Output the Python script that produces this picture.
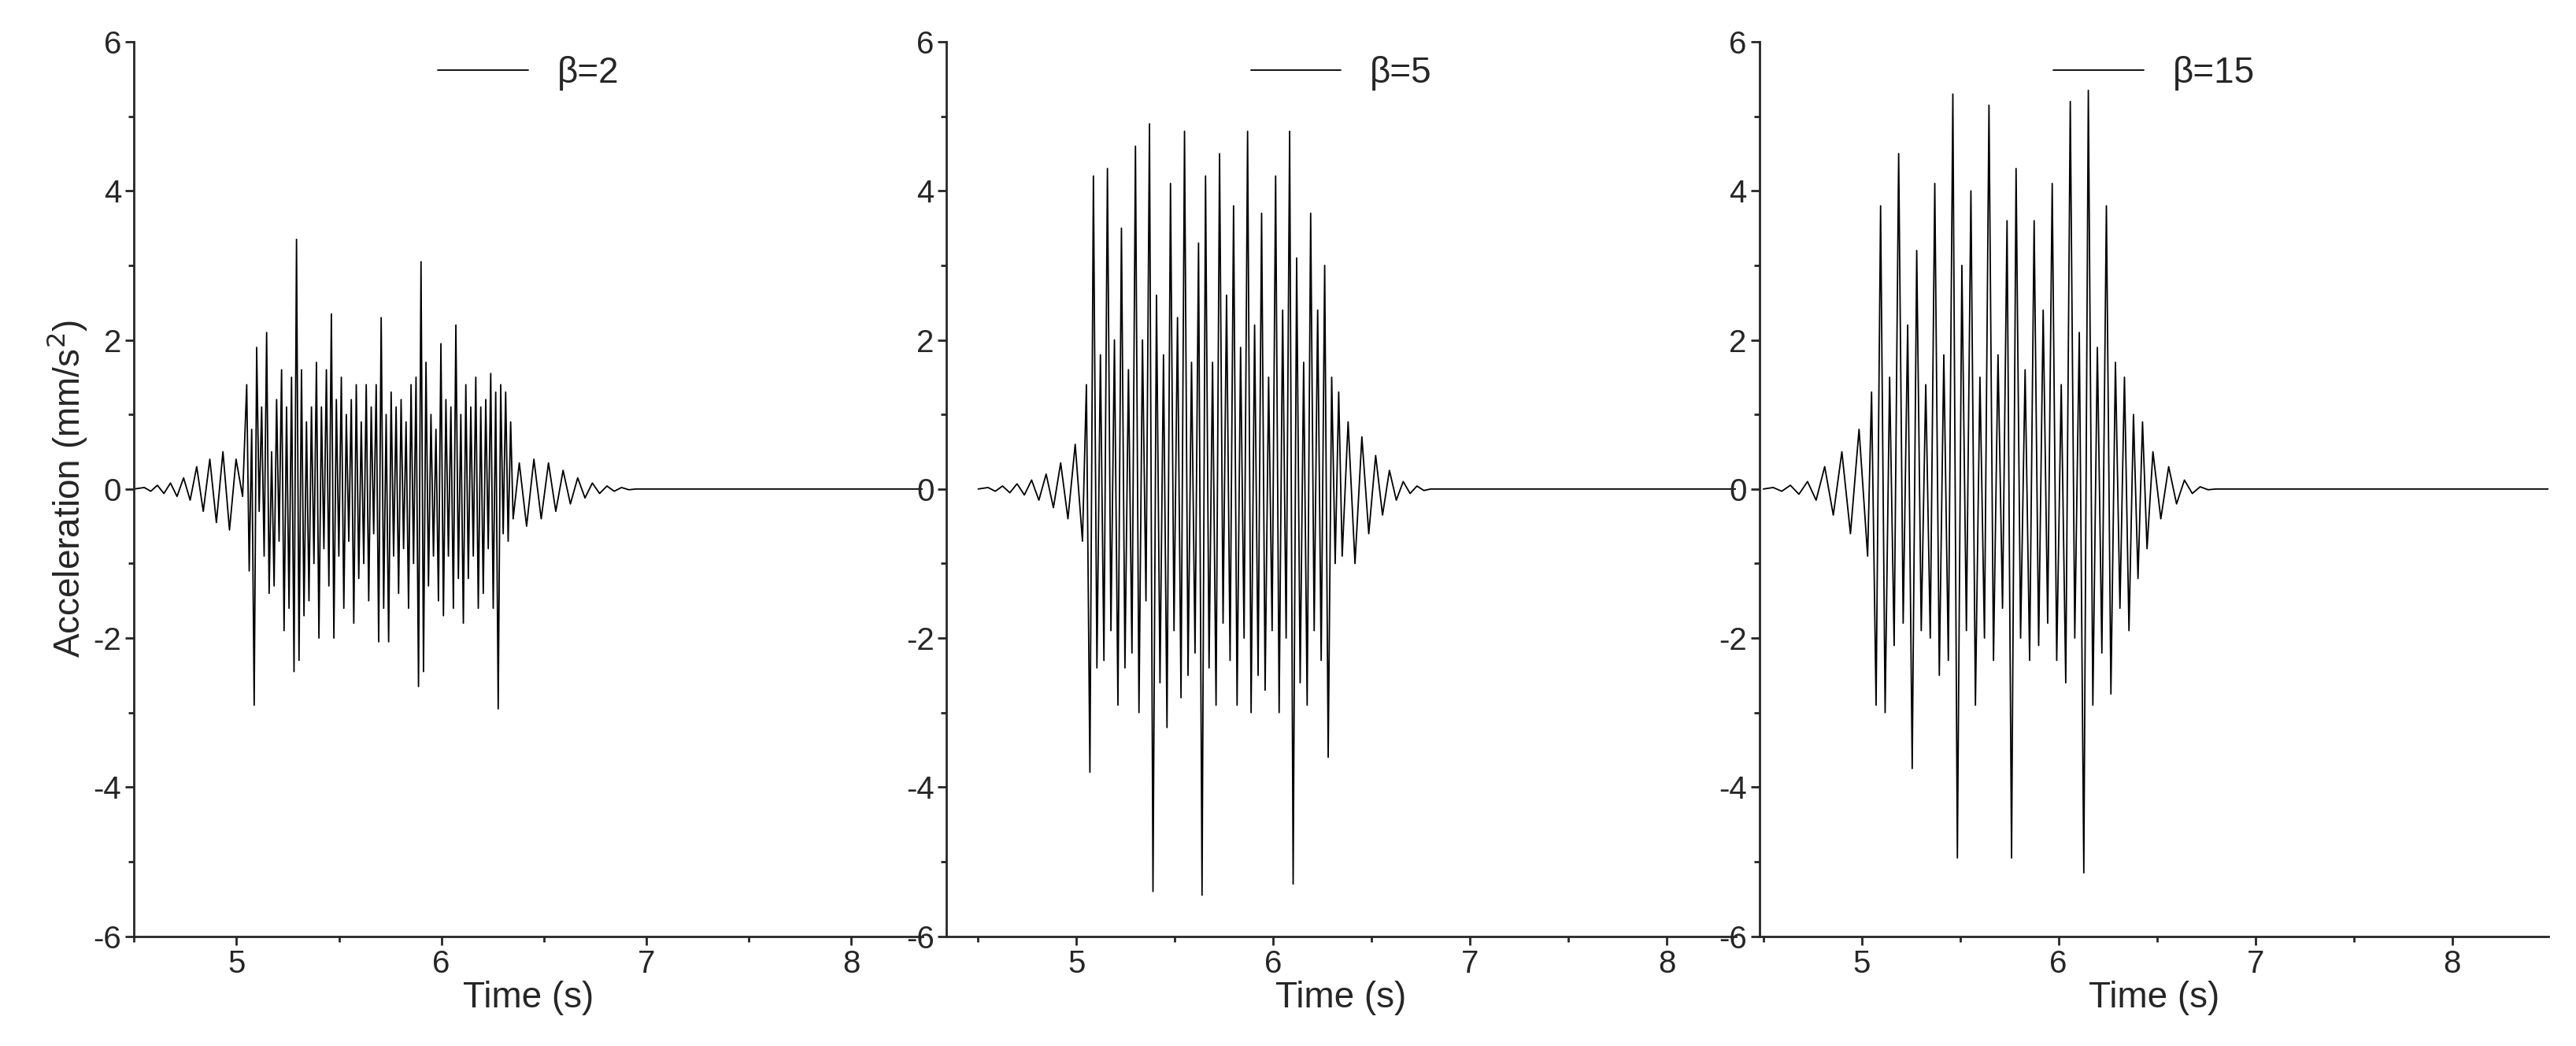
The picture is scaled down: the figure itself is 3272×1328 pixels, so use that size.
import numpy as np, pandas as pd, matplotlib
matplotlib.use("Agg")
import matplotlib.pyplot as plt, seaborn as sns
from matplotlib.ticker import MultipleLocator

sns.set_style("ticks")
plt.rcParams['font.family'] = ['Liberation Sans', 'DejaVu Sans']
plt.rcParams['axes.unicode_minus'] = False

labels = ["β=2", "β=5", "β=15"]
xlims = [(4.5, 8.35), (4.34, 8.35), (4.48, 8.49)]
pre1 = [0.02,-0.03,0.05,-0.06,0.08,-0.1,0.15,-0.15,0.3,-0.3,0.4,-0.45,0.5,-0.55,0.4,-0.1]
burst1 = [1.4,-1.1,0.8,-2.9,1.9,-0.3,1.1,-0.9,2.1,-1.4,0.5,-1.3,1.2,-0.7,1.6,-1.9,1.1,-1.6,1.5,-2.45,3.35,-2.3,1.6,-1.7,0.9,-1.5,1.1,-1.0,1.7,-2.0,1.1,-0.8,1.6,-1.3,2.35,-2.0,1.2,-0.9,1.5,-1.6,1.0,-0.7,1.2,-1.8,1.4,-1.2,0.9,-1.0,1.4,-1.5,1.1,-0.6,1.4,-2.05,2.3,-1.6,1.0,-2.05,1.3,-0.9,1.1,-1.4,1.2,-0.8,0.9,-1.6,1.4,-1.0,1.5,-2.65,3.05,-2.45,1.7,-1.3,1.0,-0.9,0.8,-1.5,1.95,-1.7,1.2,-0.9,1.1,-1.6,2.2,-1.2,1.0,-1.8,1.4,-1.2,1.1,-0.9,1.5,-1.6,1.1,-1.4,1.2,-0.8,1.55,-1.6,1.3,-2.95,1.4,-0.6,1.3,-0.7,0.9,-0.4]
post1 = [0.35,-0.5,0.4,-0.4,0.35,-0.3,0.25,-0.2,0.15,-0.12,0.08,-0.06,0.04,-0.03,0.02,-0.01,0.0]
pre2 = [0.02,-0.03,0.04,-0.05,0.07,-0.08,0.12,-0.15,0.2,-0.25,0.35,-0.4,0.6,-0.7]
burst2 = [1.4,-3.8,4.2,-2.4,1.8,-2.3,4.3,-1.9,2.0,-2.9,3.5,-2.4,1.6,-2.2,4.6,-3.0,2.0,-1.5,4.9,-5.4,2.6,-2.6,1.8,-3.2,4.1,-1.9,2.3,-2.8,4.8,-2.5,1.7,-2.2,3.3,-5.45,4.2,-2.4,1.7,-2.9,4.5,-1.8,2.6,-2.3,3.8,-2.9,1.9,-2.0,4.8,-3.0,2.2,-2.5,3.7,-2.7,1.5,-1.9,4.2,-3.0,2.4,-2.0,4.8,-5.3,3.1,-2.6,1.7,-2.9,3.7,-1.9,2.4,-2.3,3.0,-3.6,1.5,-1.0,1.3,-0.9]
post2 = [0.9,-1.0,0.7,-0.6,0.45,-0.35,0.25,-0.15,0.1,-0.06,0.04,-0.02,0.0]
pre3 = [0.02,-0.03,0.05,-0.07,0.1,-0.15,0.3,-0.35,0.5,-0.6,0.8,-0.9]
burst3 = [1.3,-2.9,3.8,-3.0,1.5,-2.1,4.5,-1.8,2.2,-3.75,3.2,-1.9,1.4,-2.0,4.1,-2.5,1.8,-2.3,5.3,-4.95,3.0,-1.9,4.0,-2.9,1.5,-2.0,5.15,-2.3,1.8,-1.6,3.6,-4.95,4.3,-2.0,1.6,-2.3,3.6,-2.1,2.4,-1.8,4.1,-2.3,1.4,-2.6,5.2,-2.0,2.1,-5.15,5.35,-2.9,1.9,-2.2,3.8,-2.75,1.7,-1.6,1.5,-1.9,1.0,-1.2,0.9,-0.8]
post3 = [0.5,-0.4,0.3,-0.2,0.12,-0.06,0.03,-0.01,0.0]
segments = [
    [(4.55, 5.03, pre1), (5.05, 6.35, burst1), (6.38, 6.95, post1)],
    [(4.55, 5.03, pre2), (5.05, 6.35, burst2), (6.38, 6.8, post2)],
    [(4.55, 5.03, pre3), (5.05, 6.45, burst3), (6.48, 6.8, post3)],
]

def build(segs, xmax):
    t, v = [4.5], [0.0]
    for s, e, vals in segs:
        t += list(np.linspace(s, e, len(vals))); v += vals
    t.append(xmax); v.append(0.0)
    return pd.DataFrame({"t": t, "a": v})

fig, axes = plt.subplots(1, 3, figsize=(32.73, 13.28), dpi=100)
fig.subplots_adjust(left=0.052, right=0.989, bottom=0.105, top=0.96, wspace=0.03)
for i, ax in enumerate(axes):
    df = build(segments[i], xlims[i][1])
    sns.lineplot(data=df, x="t", y="a", ax=ax, color="black", lw=1.3,
                 sort=False, estimator=None, label=labels[i])
    ax.set_xlim(*xlims[i]); ax.set_ylim(-6, 6)
    ax.set_xticks([5, 6, 7, 8]); ax.set_yticks([-6, -4, -2, 0, 2, 4, 6])
    ax.xaxis.set_minor_locator(MultipleLocator(0.5))
    ax.yaxis.set_minor_locator(MultipleLocator(1))
    ax.tick_params(which="major", length=8, width=2, labelsize=29)
    ax.tick_params(which="minor", length=5, width=2)
    for sp in ["left", "bottom"]:
        ax.spines[sp].set_linewidth(2)
    sns.despine(ax=ax)
    ax.set_xlabel("Time (s)", fontsize=33, labelpad=2)
    ax.set_ylabel("Acceleration (mm/s$^2$)" if i == 0 else "", fontsize=33)
    ax.legend(loc="upper center", frameon=False, fontsize=33, handlelength=2.5,
              borderaxespad=0.0)
fig.savefig("out.png")
